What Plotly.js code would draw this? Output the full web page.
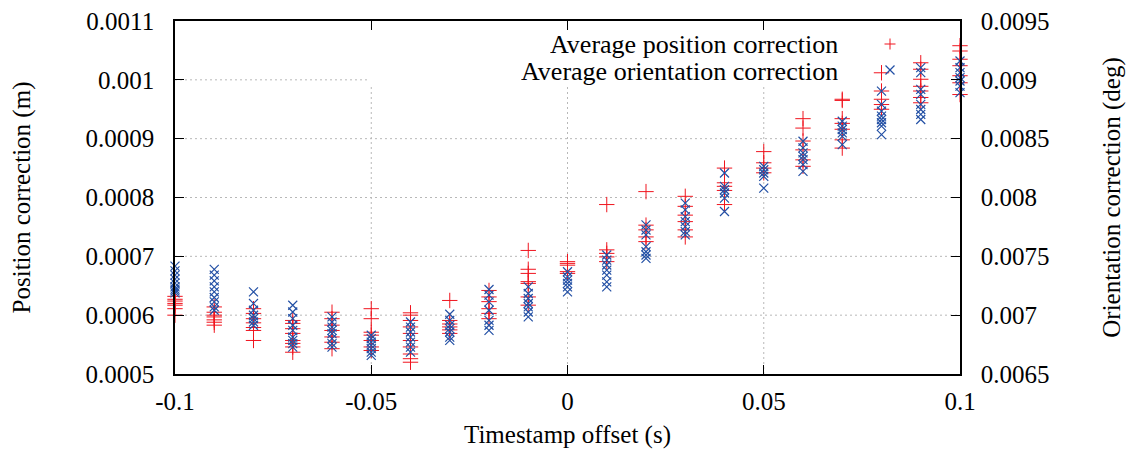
<!DOCTYPE html>
<html>
<head>
<meta charset="utf-8">
<script src="https://cdn.plot.ly/plotly-3.0.1.min.js"></script>
<style>html,body{margin:0;padding:0;background:#fff;}#chart{width:1130px;height:455px;}</style>
</head>
<body>
<div id="chart"></div>
<script>
// Timestamp offsets (s), one column of measurements per offset
const offsets = [-0.1, -0.09, -0.08, -0.07, -0.06, -0.05, -0.04, -0.03, -0.02, -0.01, 0, 0.01, 0.02, 0.03, 0.04, 0.05, 0.06, 0.07, 0.08, 0.09, 0.1];

// Average position correction (m), left axis
const positionCorrection = [
  [0.000632, 0.000627, 0.000624, 0.000620, 0.000617, 0.000611, 0.000600],
  [0.000614, 0.000605, 0.000600, 0.000597, 0.000592, 0.000588, 0.000583],
  [0.000611, 0.000603, 0.000594, 0.000587, 0.000579, 0.000574, 0.000557],
  [0.000591, 0.000586, 0.000577, 0.000569, 0.000557, 0.000552, 0.000546, 0.000537],
  [0.000605, 0.000594, 0.000583, 0.000574, 0.000563, 0.000554, 0.000543],
  [0.000611, 0.000594, 0.000571, 0.000566, 0.000557, 0.000546, 0.000540],
  [0.000604, 0.000600, 0.000591, 0.000580, 0.000569, 0.000557, 0.000546, 0.000534, 0.000526, 0.000520],
  [0.000625, 0.000591, 0.000585, 0.000580, 0.000575, 0.000569],
  [0.000642, 0.000631, 0.000623, 0.000611, 0.000603, 0.000594],
  [0.000710, 0.000678, 0.000671, 0.000657, 0.000654, 0.000631, 0.000617],
  [0.000691, 0.000688, 0.000685, 0.000674, 0.000671],
  [0.000788, 0.000711, 0.000705, 0.000699, 0.000691],
  [0.000810, 0.000753, 0.000745, 0.000733, 0.000725],
  [0.000802, 0.000785, 0.000770, 0.000759, 0.000745, 0.000733],
  [0.000850, 0.000825, 0.000819, 0.000812, 0.000788],
  [0.000878, 0.000859, 0.000850, 0.000842],
  [0.000934, 0.000918, 0.000896, 0.000881, 0.000864, 0.000853],
  [0.000967, 0.000965, 0.000934, 0.000926, 0.000916, 0.000898, 0.000884],
  [0.001012, 0.000981, 0.000967, 0.000958, 0.000950],
  [0.001029, 0.001018, 0.001001, 0.000989, 0.000981, 0.000970, 0.000961],
  [0.001058, 0.001049, 0.001035, 0.001024, 0.001007, 0.000995, 0.000975]
];

// Average orientation correction (deg), right axis
const orientationCorrection = [
  [0.007417, 0.007377, 0.007340, 0.007306, 0.007272, 0.007241, 0.007221, 0.007206, 0.007189],
  [0.007389, 0.007340, 0.007292, 0.007241, 0.007198, 0.007150, 0.007113, 0.007070, 0.007042],
  [0.007198, 0.007099, 0.007042, 0.006999, 0.006971, 0.006942, 0.006914],
  [0.007084, 0.007027, 0.006971, 0.006914, 0.006871, 0.006814, 0.006786, 0.006758, 0.006729],
  [0.006985, 0.006942, 0.006899, 0.006871, 0.006843, 0.006800, 0.006758, 0.006729],
  [0.006829, 0.006800, 0.006771, 0.006743, 0.006715, 0.006686, 0.006658],
  [0.006942, 0.006899, 0.006857, 0.006814, 0.006771, 0.006729, 0.006686],
  [0.007008, 0.006956, 0.006914, 0.006886, 0.006857, 0.006814, 0.006786],
  [0.007218, 0.007170, 0.007113, 0.007042, 0.006956, 0.006914, 0.006871],
  [0.007241, 0.007184, 0.007142, 0.007099, 0.007070, 0.007027, 0.006985],
  [0.007369, 0.007326, 0.007298, 0.007270, 0.007241, 0.007198],
  [0.007511, 0.007468, 0.007426, 0.007383, 0.007340, 0.007283, 0.007241],
  [0.007767, 0.007724, 0.007682, 0.007582, 0.007539, 0.007511, 0.007483],
  [0.007952, 0.007895, 0.007838, 0.007795, 0.007753, 0.007710, 0.007682],
  [0.008208, 0.008094, 0.008066, 0.008038, 0.007995, 0.007881],
  [0.008265, 0.008236, 0.008208, 0.008179, 0.008080],
  [0.008478, 0.008422, 0.008379, 0.008350, 0.008322, 0.008279, 0.008222],
  [0.008648, 0.008606, 0.008578, 0.008549, 0.008520, 0.008450],
  [0.008904, 0.008791, 0.008734, 0.008691, 0.008663, 0.008635, 0.008606, 0.008535],
  [0.009104, 0.009061, 0.008919, 0.008876, 0.008791, 0.008748, 0.008706, 0.008663],
  [0.009160, 0.009104, 0.009061, 0.009019, 0.008990, 0.008947, 0.008891]
];

// Tick values and labels
const xTickVals = [-0.1, -0.05, 0, 0.05, 0.1];
const xTickText = ["-0.1", "-0.05", "0", "0.05", "0.1"];
const yTickVals = [0.0005, 0.0006, 0.0007, 0.0008, 0.0009, 0.001, 0.0011];
const yTickText = ["0.0005", "0.0006", "0.0007", "0.0008", "0.0009", "0.001", "0.0011"];
const y2TickVals = [0.0065, 0.007, 0.0075, 0.008, 0.0085, 0.009, 0.0095];
const y2TickText = ["0.0065", "0.007", "0.0075", "0.008", "0.0085", "0.009", "0.0095"];
const seriesNames = ["Average position correction", "Average orientation correction"];

function flatten(cols) {
  const xs = [], ys = [];
  cols.forEach((vals, i) => vals.forEach(v => { xs.push(offsets[i]); ys.push(v); }));
  return {xs, ys};
}
const pos = flatten(positionCorrection);
const ori = flatten(orientationCorrection);

const RED = 'rgb(240,20,30)';
const BLUE = 'rgb(35,80,165)';
const FONT = '"Liberation Serif", "Times New Roman", Times, serif';
const FS = 25;

const traces = [
  {x: pos.xs, y: pos.ys, type: 'scatter', mode: 'markers', name: seriesNames[0], yaxis: 'y',
   cliponaxis: false,
   marker: {symbol: 'cross-thin', size: 11, color: RED, line: {color: RED, width: 1}}},
  {x: ori.xs, y: ori.ys, type: 'scatter', mode: 'markers', name: seriesNames[1], yaxis: 'y2',
   cliponaxis: false,
   marker: {symbol: 'x-thin', size: 9, color: BLUE, line: {color: BLUE, width: 1.2}}}
];

function px2paperX(p) { return (p - 175) / 785; }
function px2paperY(p) { return (374 - p) / 353; }

// grid drawn as dotted shapes; the key box hides it in the upper right
const GRID = {color: '#b8b8b8', width: 1, dash: '2px,3px'};
const keyLeft = px2paperX(368), keyBottom = px2paperY(84);
const shapes = [];
yTickVals.slice(1, -1).forEach(v => {
  shapes.push({type: 'line', layer: 'below', xref: 'paper', yref: 'y', x0: 0,
    x1: (v > 0.00095 ? keyLeft : 1), y0: v, y1: v, line: GRID});
});
xTickVals.slice(1, -1).forEach(v => {
  shapes.push({type: 'line', layer: 'below', xref: 'x', yref: 'paper', x0: v, x1: v,
    y0: 0, y1: keyBottom, line: GRID});
});
// legend samples
shapes.push(
  {type: 'line', xref: 'paper', yref: 'paper', xsizemode: 'pixel', ysizemode: 'pixel',
   xanchor: px2paperX(890), yanchor: px2paperY(44), x0: -5.5, x1: 5.5, y0: 0, y1: 0, line: {color: RED, width: 1}},
  {type: 'line', xref: 'paper', yref: 'paper', xsizemode: 'pixel', ysizemode: 'pixel',
   xanchor: px2paperX(890), yanchor: px2paperY(44), x0: 0, x1: 0, y0: -5.5, y1: 5.5, line: {color: RED, width: 1}},
  {type: 'line', xref: 'paper', yref: 'paper', xsizemode: 'pixel', ysizemode: 'pixel',
   xanchor: px2paperX(890), yanchor: px2paperY(70), x0: -4.5, x1: 4.5, y0: -4.5, y1: 4.5, line: {color: BLUE, width: 1.2}},
  {type: 'line', xref: 'paper', yref: 'paper', xsizemode: 'pixel', ysizemode: 'pixel',
   xanchor: px2paperX(890), yanchor: px2paperY(70), x0: -4.5, x1: 4.5, y0: 4.5, y1: -4.5, line: {color: BLUE, width: 1.2}}
);

const annotations = [
  {text: seriesNames[0], xref: 'paper', yref: 'paper', x: px2paperX(840), y: px2paperY(44),
   xanchor: 'right', yanchor: 'middle', showarrow: false, height: 27, valign: 'middle',
   font: {family: FONT, size: 26, color: '#000'}},
  {text: seriesNames[1], xref: 'paper', yref: 'paper', x: px2paperX(840), y: px2paperY(71.5),
   xanchor: 'right', yanchor: 'middle', showarrow: false, height: 27, valign: 'middle',
   font: {family: FONT, size: 26, color: '#000'}}
];

const layout = {
  width: 1130, height: 455,
  margin: {l: 175, r: 170, t: 21, b: 81, pad: 0},
  paper_bgcolor: '#fff', plot_bgcolor: '#fff',
  font: {family: FONT, size: FS, color: '#000'},
  showlegend: false,
  xaxis: {
    range: [-0.1, 0.1], tickmode: 'array', tickvals: xTickVals, ticktext: xTickText,
    ticks: 'inside', ticklen: 9, tickwidth: 1.3, tickcolor: '#000',
    showline: true, linecolor: '#000', linewidth: 1.8, mirror: 'ticks',
    showgrid: false, zeroline: false, ticklabelstandoff: 4,
    tickfont: {family: FONT, size: FS},
    title: {text: 'Timestamp offset (s)', font: {family: FONT, size: FS}, standoff: 12}
  },
  yaxis: {
    range: [0.0005, 0.0011], tickmode: 'array', tickvals: yTickVals, ticktext: yTickText,
    ticks: 'inside', ticklen: 9, tickwidth: 1.3, tickcolor: '#000',
    showline: true, linecolor: '#000', linewidth: 1.8, mirror: true,
    showgrid: false, zeroline: false, ticklabelstandoff: 14,
    tickfont: {family: FONT, size: FS},
    title: {text: 'Position correction (m)', font: {family: FONT, size: FS}, standoff: 48}
  },
  yaxis2: {
    range: [0.0065, 0.0095], tickmode: 'array', tickvals: y2TickVals, ticktext: y2TickText,
    overlaying: 'y', side: 'right',
    ticks: 'inside', ticklen: 9, tickwidth: 1.3, tickcolor: '#000',
    showline: true, linecolor: '#000', linewidth: 1.8,
    showgrid: false, zeroline: false, ticklabelstandoff: 14,
    tickfont: {family: FONT, size: FS},
    title: {text: 'Orientation correction (deg)', font: {family: FONT, size: FS}, standoff: 54}
  },
  shapes: shapes,
  annotations: annotations
};

Plotly.newPlot('chart', traces, layout, {displayModeBar: false, staticPlot: true});
</script>
</body>
</html>
